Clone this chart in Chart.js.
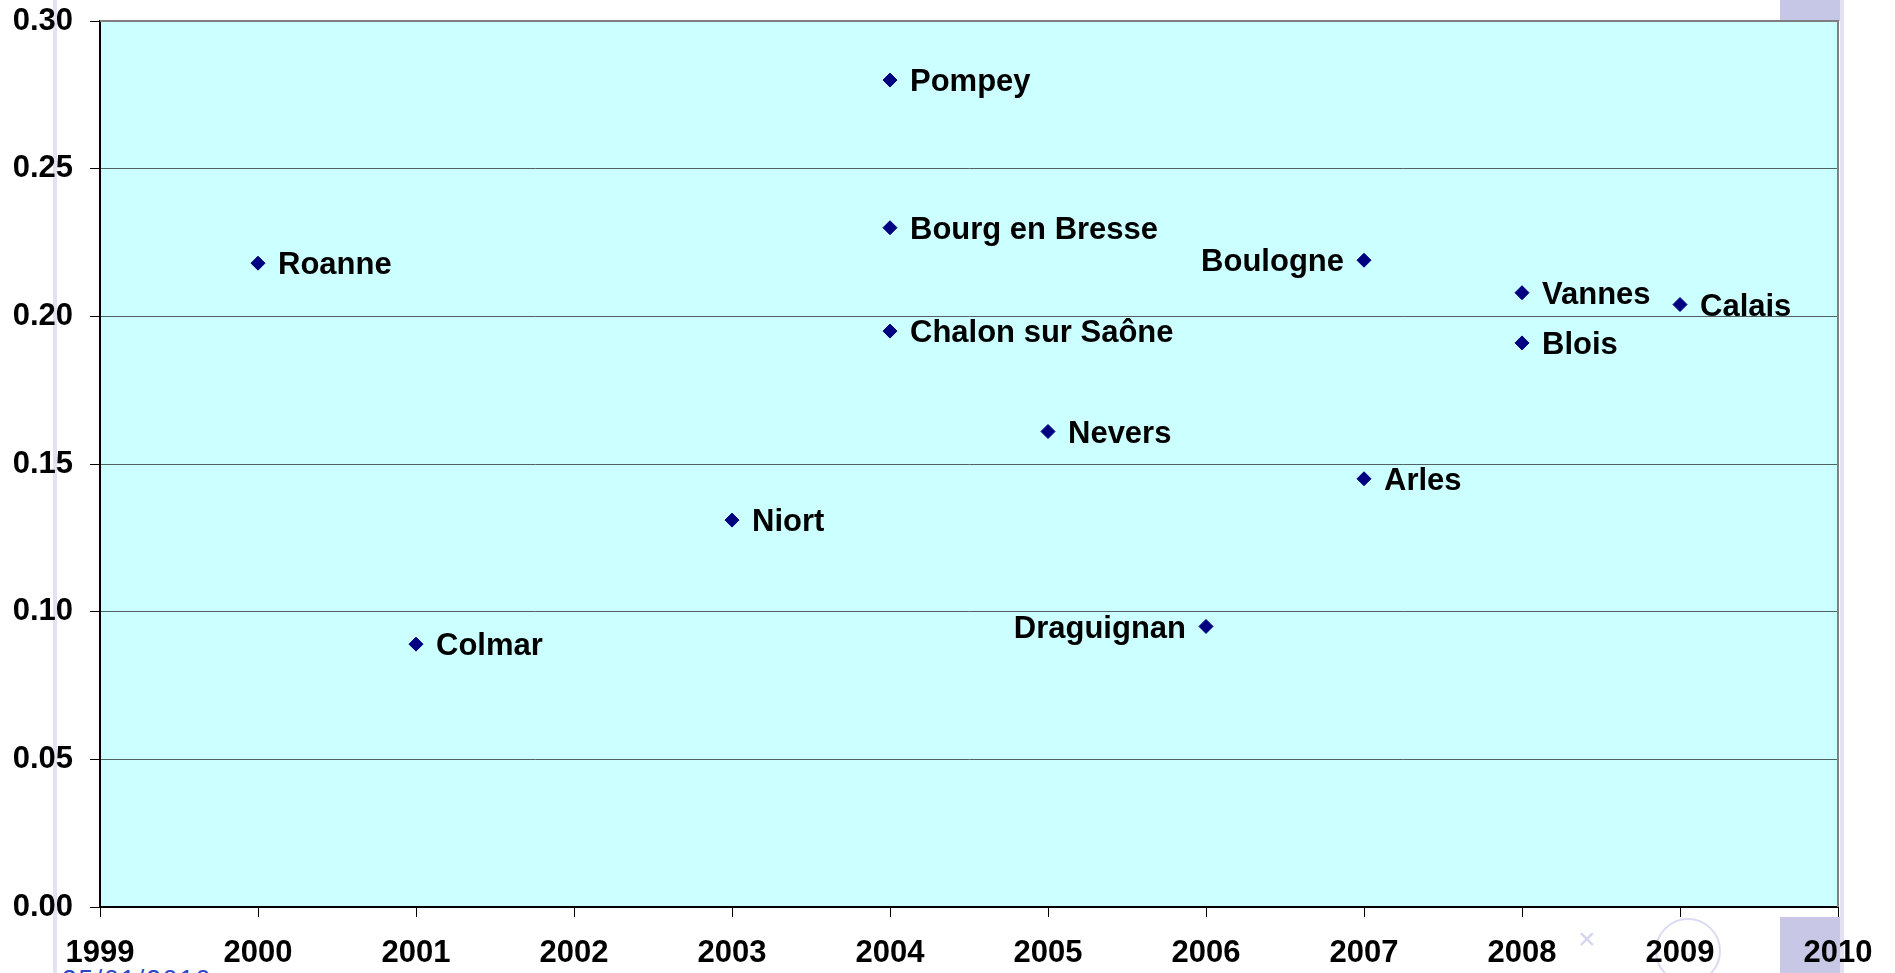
<!DOCTYPE html>
<html>
<head>
<meta charset="utf-8">
<script src="https://cdn.jsdelivr.net/npm/chart.js@4.4.1/dist/chart.umd.min.js"></script>
<style>
  html, body { margin: 0; padding: 0; background: #fff; overflow: hidden; }
  #wrap { position: relative; width: 1895px; height: 973px; }
  #c { position: absolute; left: 0; top: 0; z-index: 2; }
  .deco { position: absolute; z-index: 1; }
  #date { position: absolute; z-index: 1; left: 62px; top: 966px; font: 26px 'Liberation Sans', Arial, sans-serif;
          line-height: 26px; color: #2a46c8; letter-spacing: 2px; }
</style>
</head>
<body>
<div id="wrap">
  <div class="deco" style="left:53px;top:0;width:4px;height:973px;background:#e2e2f2"></div>
  <div class="deco" style="left:1780px;top:0;width:60px;height:21px;background:#c6c6e6"></div>
  <div class="deco" style="left:1840px;top:0;width:4px;height:973px;background:#e2e2f2"></div>
  <div class="deco" style="left:1780px;top:917px;width:60px;height:56px;background:#c8c8e6"></div>
  <div class="deco" style="left:1655px;top:918px;width:62px;height:62px;border:2px solid #dadaf0;border-radius:50%"></div>
  <div class="deco" style="left:1578px;top:922px;font:30px sans-serif;color:#d4d4ee">×</div>
  <div id="date">25/01/2010</div>
  <canvas id="c" width="1895" height="973"></canvas>
</div>
<script>
const cities = ['Roanne', 'Colmar', 'Niort', 'Pompey', 'Bourg en Bresse', 'Chalon sur Saône', 'Nevers',
  'Draguignan', 'Boulogne', 'Arles', 'Vannes', 'Blois', 'Calais']
const years = [2000, 2001, 2003, 2004, 2004, 2004, 2005, 2006, 2007, 2007, 2008, 2008, 2009]
const rates = [0.218, 0.089, 0.131, 0.280, 0.230, 0.195, 0.161, 0.095, 0.219, 0.145, 0.208, 0.191, 0.204]
// which side of the point the name is written on
const labelSide = ['right', 'right', 'right', 'right', 'right', 'right', 'right',
  'left', 'left', 'right', 'right', 'right', 'right']

const xTicks = [1999, 2000, 2001, 2002, 2003, 2004, 2005, 2006, 2007, 2008, 2009, 2010]
const yTicks = [0, 0.05, 0.10, 0.15, 0.20, 0.25, 0.30]

const FONT = "'Liberation Sans', Arial, sans-serif"

const plotBg = {
  id: 'plotBg',
  beforeDraw(chart) {
    const { ctx, chartArea: a } = chart
    ctx.save()
    ctx.fillStyle = '#ccffff'
    ctx.fillRect(a.left, a.top, a.right - a.left, a.bottom - a.top)
    ctx.restore()
  },
  afterDraw(chart) {
    const { ctx, chartArea: a } = chart
    ctx.save()
    ctx.strokeStyle = '#808080'
    ctx.lineWidth = 2
    ctx.beginPath()
    ctx.moveTo(a.left, a.top)
    ctx.lineTo(a.right, a.top)
    ctx.lineTo(a.right, a.bottom)
    ctx.stroke()
    ctx.restore()
  }
}

const cityLabels = {
  id: 'cityLabels',
  afterDatasetsDraw(chart) {
    const ctx = chart.ctx
    const size = 31
    ctx.save()
    ctx.font = 'bold ' + size + 'px ' + FONT
    ctx.fillStyle = '#000'
    ctx.textBaseline = 'alphabetic'
    chart.getDatasetMeta(0).data.forEach((pt, i) => {
      const left = labelSide[i] === 'left'
      ctx.textAlign = left ? 'right' : 'left'
      ctx.fillText(cities[i], pt.x + (left ? -20 : 20), pt.y + size * 0.36)
    })
    ctx.restore()
  }
}

new Chart(document.getElementById('c'), {
  type: 'scatter',
  data: {
    datasets: [{
      data: years.map((y, i) => ({ x: y, y: rates[i] })),
      pointStyle: 'rectRot',
      pointRadius: 7,
      borderWidth: 1,
      backgroundColor: '#000080',
      borderColor: '#000080',
    }]
  },
  options: {
    responsive: false,
    animation: false,
    devicePixelRatio: 1,
    layout: { padding: { left: 0, top: 21, right: 57, bottom: 0 } },
    plugins: { legend: { display: false }, tooltip: { enabled: false } },
    scales: {
      x: {
        type: 'linear',
        min: 1999,
        max: 2010,
        afterBuildTicks: s => { s.ticks = xTicks.map(v => ({ value: v })) },
        afterFit: s => { s.height = 66 },
        ticks: {
          color: '#000',
          font: { family: FONT, size: 31, weight: 'bold' },
          padding: 18,
          maxRotation: 0,
          autoSkip: false,
          callback: v => String(v)
        },
        grid: { drawOnChartArea: false, drawTicks: true, tickLength: 10, tickColor: '#000', tickWidth: 1 },
        border: { color: '#000', width: 2 }
      },
      y: {
        min: 0,
        max: 0.3,
        afterBuildTicks: s => { s.ticks = yTicks.map(v => ({ value: v })) },
        afterFit: s => { s.width = 100; s.paddingTop = 0; s.paddingBottom = 0 },
        ticks: {
          color: '#000',
          font: { family: FONT, size: 31, weight: 'bold' },
          padding: 17,
          callback: v => v.toFixed(2)
        },
        grid: { color: '#506262', lineWidth: 1, drawTicks: true, tickLength: 10, tickColor: '#000', tickWidth: 1 },
        border: { color: '#000', width: 2 }
      }
    }
  },
  plugins: [plotBg, cityLabels]
})
</script>
</body>
</html>
